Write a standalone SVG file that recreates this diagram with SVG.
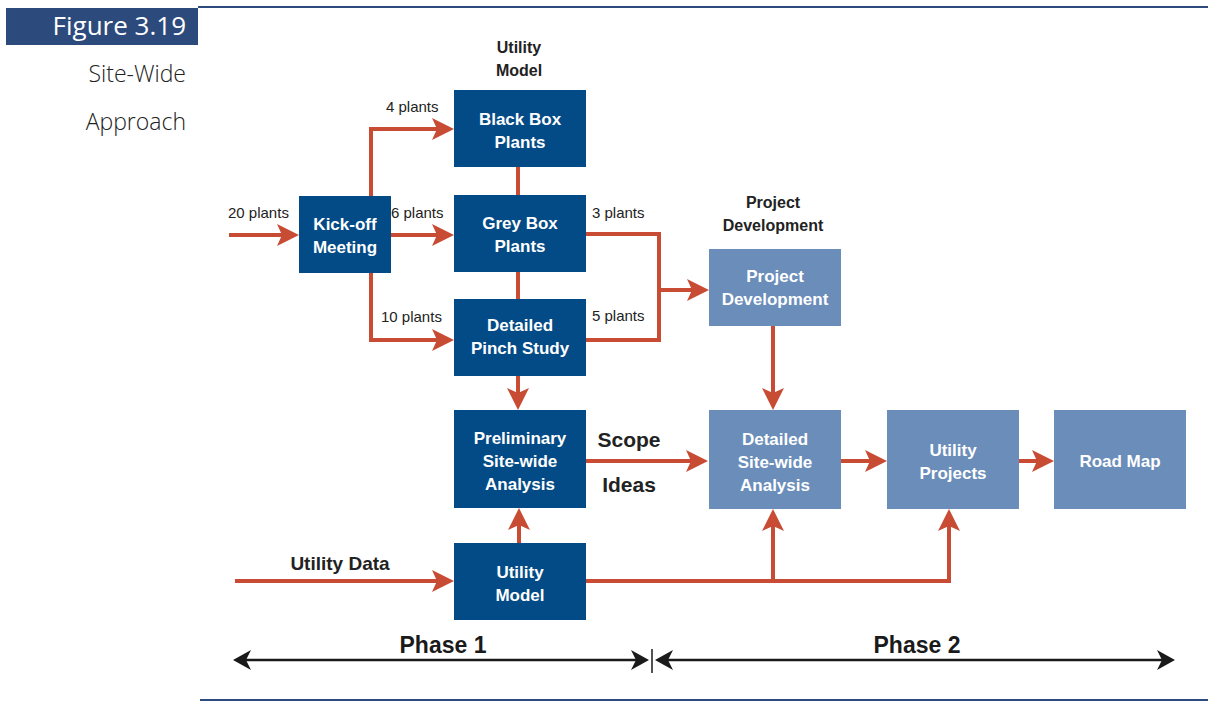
<svg xmlns="http://www.w3.org/2000/svg" width="1208" height="704" viewBox="0 0 1208 704">
<style>
.dk{fill:#034B86}
.lt{fill:#6A8DBA}
.nt{font-family:"Liberation Sans",Arial,sans-serif;font-weight:bold;font-size:17px;fill:#fff;text-anchor:middle}
.lb{font-family:"Liberation Sans",Arial,sans-serif;font-size:15px;fill:#222}
.hd{font-family:"Liberation Sans",Arial,sans-serif;font-weight:bold;font-size:16px;fill:#222;text-anchor:middle}
.rc{fill:none;stroke:#C84B33;stroke-width:4}
.ph{fill:none;stroke:#1a1a1a;stroke-width:2.5}
</style>
<defs>
<marker id="ra" markerUnits="userSpaceOnUse" markerWidth="24" markerHeight="24" refX="14" refY="11" orient="auto">
<path d="M0,0 L22,11 L0,22 L5,11 Z" fill="#C84B33"/>
</marker>
<marker id="ba" markerUnits="userSpaceOnUse" markerWidth="22" markerHeight="22" refX="10" refY="10" orient="auto-start-reverse">
<path d="M0,0 L18,10 L0,20 L5,10 Z" fill="#1a1a1a"/>
</marker>
</defs>
<rect width="1208" height="704" fill="#fff"/>
<!-- header -->
<line x1="198" y1="7" x2="1208" y2="7" stroke="#2D4A7C" stroke-width="2"/>
<rect x="6" y="8" width="192" height="37" fill="#2D4A7C"/>
<text x="186" y="35" font-family="'Open Sans','Liberation Sans',sans-serif" font-size="26" fill="#fff" text-anchor="end">Figure 3.19</text>
<text x="186" y="82" font-family="'Open Sans','Liberation Sans',sans-serif" font-size="23" font-weight="300" fill="#222" text-anchor="end">Site-Wide</text>
<text x="186" y="130" font-family="'Open Sans','Liberation Sans',sans-serif" font-size="23" font-weight="300" fill="#222" text-anchor="end">Approach</text>
<line x1="200" y1="700" x2="1208" y2="700" stroke="#2D4A7C" stroke-width="2"/>
<!-- connectors -->
<g id="connectors">
<path class="rc" d="M229,235 H291" marker-end="url(#ra)"/>
<path class="rc" d="M371,196 V129 H446" marker-end="url(#ra)"/>
<path class="rc" d="M391,235 H446" marker-end="url(#ra)"/>
<path class="rc" d="M371,273 V340 H446" marker-end="url(#ra)"/>
<path class="rc" d="M518,167 V195"/>
<path class="rc" d="M518,272 V299"/>
<path class="rc" d="M518,376 V402" marker-end="url(#ra)"/>
<path class="rc" d="M586,234 H659 V340 H586"/>
<path class="rc" d="M659,290 H701" marker-end="url(#ra)"/>
<path class="rc" d="M773,326 V402" marker-end="url(#ra)"/>
<path class="rc" d="M586,461 H700" marker-end="url(#ra)"/>
<path class="rc" d="M840,461 H879" marker-end="url(#ra)"/>
<path class="rc" d="M1019,461 H1046" marker-end="url(#ra)"/>
<path class="rc" d="M235,581 H446" marker-end="url(#ra)"/>
<path class="rc" d="M519,543 V516" marker-end="url(#ra)"/>
<path class="rc" d="M586,581 H949 V517" marker-end="url(#ra)"/>
<path class="rc" d="M773,581 V517" marker-end="url(#ra)"/>
<path class="ph" d="M241,660 H641" marker-start="url(#ba)" marker-end="url(#ba)"/>
<path class="ph" d="M663,660 H1167" marker-start="url(#ba)" marker-end="url(#ba)"/>
<line x1="652" y1="649" x2="652" y2="673" stroke="#1a1a1a" stroke-width="1.5"/>
</g>
<!-- labels -->
<text class="lb" x="228" y="218">20 plants</text>
<text class="lb" x="386" y="112">4 plants</text>
<text class="lb" x="391" y="218">6 plants</text>
<text class="lb" x="381" y="322">10 plants</text>
<text class="lb" x="592" y="218">3 plants</text>
<text class="lb" x="592" y="321">5 plants</text>
<text class="hd" x="519" y="53">Utility</text>
<text class="hd" x="519" y="76">Model</text>
<text class="hd" x="773" y="208">Project</text>
<text class="hd" x="773" y="231">Development</text>
<text x="629" y="447" font-family="'Liberation Sans',Arial,sans-serif" font-size="21" font-weight="bold" fill="#222" text-anchor="middle">Scope</text>
<text x="629" y="492" font-family="'Liberation Sans',Arial,sans-serif" font-size="21" font-weight="bold" fill="#222" text-anchor="middle">Ideas</text>
<text x="340" y="570" font-family="'Liberation Sans',Arial,sans-serif" font-size="19" font-weight="bold" fill="#222" text-anchor="middle">Utility Data</text>
<text x="443" y="653" font-family="'Liberation Sans',Arial,sans-serif" font-size="23" font-weight="bold" fill="#1a1a1a" text-anchor="middle">Phase 1</text>
<text x="917" y="653" font-family="'Liberation Sans',Arial,sans-serif" font-size="23" font-weight="bold" fill="#1a1a1a" text-anchor="middle">Phase 2</text>
<!-- nodes -->
<g id="kickoff"><rect class="dk" x="299" y="196" width="92" height="77"/><text class="nt" x="345" y="230">Kick-off</text><text class="nt" x="345" y="253">Meeting</text></g>
<g id="blackbox"><rect class="dk" x="454" y="90" width="132" height="77"/><text class="nt" x="520" y="125">Black Box</text><text class="nt" x="520" y="148">Plants</text></g>
<g id="greybox"><rect class="dk" x="454" y="195" width="132" height="77"/><text class="nt" x="520" y="229">Grey Box</text><text class="nt" x="520" y="252">Plants</text></g>
<g id="pinch"><rect class="dk" x="454" y="299" width="132" height="77"/><text class="nt" x="520" y="331">Detailed</text><text class="nt" x="520" y="354">Pinch Study</text></g>
<g id="prelim"><rect class="dk" x="454" y="410" width="132" height="98"/><text class="nt" x="520" y="444">Preliminary</text><text class="nt" x="520" y="467">Site-wide</text><text class="nt" x="520" y="490">Analysis</text></g>
<g id="utilmodel"><rect class="dk" x="454" y="543" width="132" height="77"/><text class="nt" x="520" y="578">Utility</text><text class="nt" x="520" y="601">Model</text></g>
<g id="projdev"><rect class="lt" x="709" y="249" width="132" height="77"/><text class="nt" x="775" y="282">Project</text><text class="nt" x="775" y="305">Development</text></g>
<g id="detailed"><rect class="lt" x="709" y="410" width="132" height="99"/><text class="nt" x="775" y="445">Detailed</text><text class="nt" x="775" y="468">Site-wide</text><text class="nt" x="775" y="491">Analysis</text></g>
<g id="utilproj"><rect class="lt" x="887" y="410" width="132" height="99"/><text class="nt" x="953" y="456">Utility</text><text class="nt" x="953" y="479">Projects</text></g>
<g id="roadmap"><rect class="lt" x="1054" y="410" width="132" height="99"/><text class="nt" x="1120" y="467">Road Map</text></g>
</svg>
